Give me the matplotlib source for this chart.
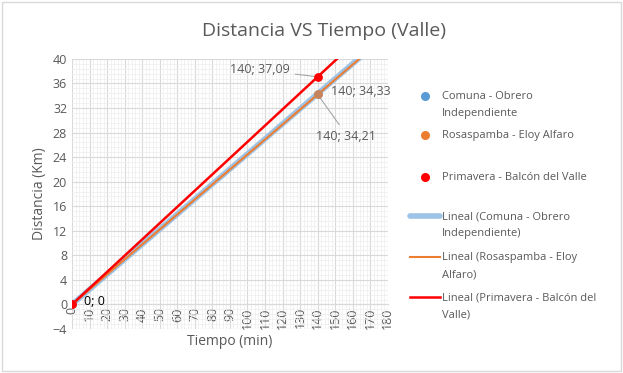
import numpy as np
import matplotlib.pyplot as plt
from matplotlib.lines import Line2D
from matplotlib.ticker import MultipleLocator

plt.rcParams['font.family'] = ['Open Sans', 'DejaVu Sans']

# Datos: tiempo (min) y distancia (km) por ruta
tiempo = [0, 140]
comuna = [0, 34.33]
rosaspamba = [0, 34.21]
primavera = [0, 37.09]

series = ['Comuna - Obrero\nIndependiente', 'Rosaspamba - Eloy Alfaro', 'Primavera - Balcón del Valle']
tendencias = ['Lineal (Comuna - Obrero\nIndependiente)', 'Lineal (Rosaspamba - Eloy\nAlfaro)',
              'Lineal (Primavera - Balcón del\nValle)']

gris = '#595959'
azul, azul_claro, naranja, rojo = '#5B9BD5', '#9DC3E6', '#ED7D31', '#FF0000'

fig = plt.figure(figsize=(6.23, 3.73), dpi=100)
ax = fig.add_axes([0.1156, 0.118, 0.507, 0.724])

# Lineas de tendencia (regresion lineal, extendidas hasta el final del eje)
x_lin = np.array([0, 180])
for xs, ys, color, lw in [(tiempo, comuna, azul_claro, 4), (tiempo, rosaspamba, naranja, 1.5),
                          (tiempo, primavera, rojo, 1.8)]:
    pend = np.polyfit(xs, ys, 1)
    ax.plot(x_lin, np.polyval(pend, x_lin), color=color, lw=lw, zorder=3)

ax.scatter(tiempo, comuna, color=azul, s=28, zorder=4)
ax.scatter(tiempo, rosaspamba, color=naranja, s=28, zorder=4, alpha=0.7)
ax.scatter(tiempo, primavera, color=rojo, s=28, zorder=5)

# Etiquetas de datos
ax.text(7, 0.5, '0; 0', fontsize=9, color='black', va='center', ha='left')
ax.annotate('140; 37,09', xy=(tiempo[1], primavera[1]), xytext=(124, 38.2), fontsize=9, color=gris,
            ha='right', va='center', arrowprops=dict(arrowstyle='-', color='#A6A6A6', lw=0.8))
ax.text(147.5, comuna[1] + 0.3, '140; 34,33', fontsize=9, color=gris, ha='left', va='center')
ax.annotate('140; 34,21', xy=(tiempo[1], rosaspamba[1]), xytext=(139, 27.4), fontsize=9, color=gris,
            ha='left', va='center', arrowprops=dict(arrowstyle='-', color='#A6A6A6', lw=0.8,
                                                    relpos=(0.45, 1)))

ax.set_xlim(0, 180)
ax.set_ylim(-4, 40)
ax.xaxis.set_major_locator(MultipleLocator(10))
ax.xaxis.set_minor_locator(MultipleLocator(2))
ax.yaxis.set_major_locator(MultipleLocator(4))
ax.yaxis.set_minor_locator(MultipleLocator(0.8))
ax.grid(which='major', color='#D9D9D9', lw=0.8)
ax.grid(which='minor', color='#EDEDED', lw=0.5)
ax.set_axisbelow(True)
for s in ax.spines.values():
    s.set_visible(False)
# el eje horizontal cruza en y = 0 (como en Excel)
ax.spines['bottom'].set_position(('data', 0))
ax.spines['bottom'].set_visible(True)
ax.spines['bottom'].set_color('#D9D9D9')
ax.tick_params(which='both', length=0, colors=gris, labelsize=9)
ax.tick_params(axis='x', rotation=90, pad=2)
ax.set_xlabel('Tiempo (min)', color=gris, fontsize=10, labelpad=4)
ax.set_ylabel('Distancia (Km)', color=gris, fontsize=10, labelpad=4)

fig.text(0.52, 0.918, 'Distancia VS Tiempo (Valle)', ha='center', va='center', fontsize=14, color=gris)

# Leyenda (posiciones como en el original)
handles = [Line2D([], [], ls='', marker='o', color=azul, ms=5.5),
           Line2D([], [], ls='', marker='o', color=naranja, ms=5.5),
           Line2D([], [], ls='', marker='o', color=rojo, ms=5.5),
           Line2D([], [], color=azul_claro, lw=4, solid_capstyle='round'),
           Line2D([], [], color=naranja, lw=1.5),
           Line2D([], [], color=rojo, lw=1.8)]
etiquetas = series + tendencias
y_pos = [96, 135, 177, 216, 257, 297]
for h, lab, yp in zip(handles, etiquetas, y_pos):
    yf = 1 - yp / 373
    if h.get_marker() == 'o':
        fig.add_artist(Line2D([425 / 623], [yf], ls='', marker='o', color=h.get_color(),
                              ms=h.get_markersize()))
    else:
        fig.add_artist(Line2D([410 / 623, 440 / 623], [yf, yf], color=h.get_color(),
                              lw=h.get_linewidth(), solid_capstyle=h.get_solid_capstyle()))
    fig.text(442 / 623, yf + 0.013, lab, fontsize=8, color=gris, ha='left', va='top', linespacing=1.75)

fig.patches.append(plt.Rectangle((0.003, 0.005), 0.994, 0.99, transform=fig.transFigure, fill=False,
                                 edgecolor='#D9D9D9', lw=1))
fig.savefig('out.png')
